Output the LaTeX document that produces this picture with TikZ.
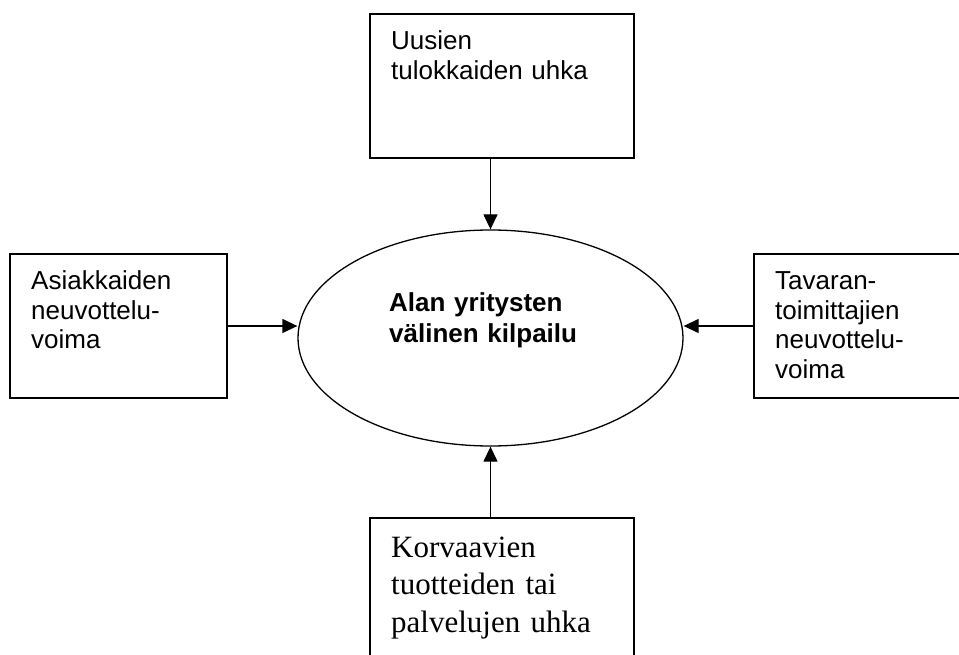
\documentclass[tikz,border=0pt]{standalone}
\usepackage{fontspec}
\setmainfont{Liberation Serif}
\newfontfamily\arialf{Liberation Sans}
\usetikzlibrary{shapes.geometric,arrows.meta}
\begin{document}
\begin{tikzpicture}[x=1pt,y=-1pt,
  forcebox/.style={draw, line width=1.6pt, rectangle, inner sep=0pt, outer sep=0pt},
  sanstext/.style={anchor=base west, inner sep=0pt, text width=230pt, align=left,
    font=\arialf\fontsize{26}{29.5}\selectfont},
  serftext/.style={anchor=base west, inner sep=0pt, text width=240pt, align=left,
    font=\fontsize{31}{37.5}\selectfont},
  conn/.style={line width=1.3pt, -{Triangle[length=15pt,width=14pt]}}]
\useasboundingbox (0,0) rectangle (959,655);
\fill[white] (0,0) rectangle (959,655);
% boxes
\node[forcebox, minimum width=264pt, minimum height=144pt] (T) at (502,86) {};
\node[forcebox, minimum width=217pt, minimum height=144pt] (L) at (118.5,326) {};
\node[forcebox, minimum width=230pt, minimum height=144pt] (R) at (869,326) {};
\node[forcebox, minimum width=264pt, minimum height=170pt] (B) at (502,603) {};
% ellipse
\node[ellipse, draw, line width=1.3pt, minimum width=385pt, minimum height=216pt, inner sep=0pt] (E) at (490.5,338) {};
% texts
\node[sanstext] (tT) at (391,50) {Uusien\\tulokkaiden uhka};
\node[sanstext] (tL) at (31,290) {Asiakkaiden\\neuvottelu-\\voima};
\node[sanstext] (tR) at (775,290) {Tavaran-\\toimittajien\\neuvottelu-\\voima};
\node[serftext] (tB) at (391,557) {Korvaavien\\tuotteiden tai\\palvelujen uhka};
\node[anchor=base west, inner sep=0pt, text width=240pt, align=left,
  font=\arialf\bfseries\fontsize{26}{31}\selectfont] (tE) at (389,312) {Alan yritysten\\välinen kilpailu};
% connectors
\draw[conn] (E.north |- T.south) -- (E.north);
\draw[conn] (L.east) -- (L.east -| E.west);
\draw[conn] (R.west) -- (R.west -| E.east);
\draw[conn] (E.south |- B.north) -- (E.south);
\end{tikzpicture}
\end{document}
